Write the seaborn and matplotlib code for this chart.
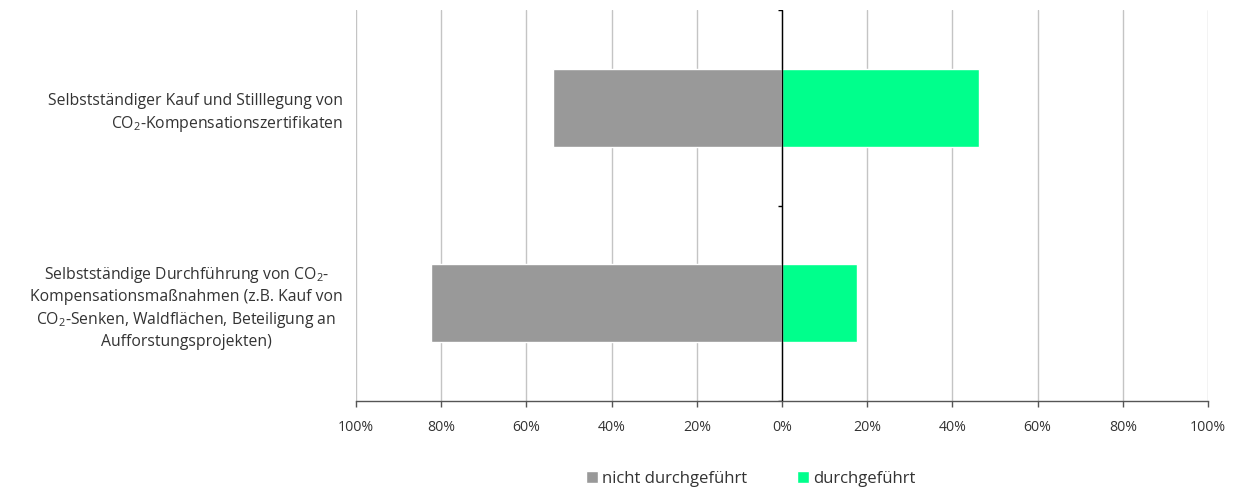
import pandas as pd
import matplotlib.pyplot as plt
import seaborn as sns
from matplotlib.ticker import FuncFormatter

# =====================================
# Data
# =====================================

categories = [
    "Selbstständiger Kauf und Stilllegung von\nCO$_{\\mathregular{2}}$-Kompensationszertifikaten",
    "Selbstständige Durchführung von CO$_{\\mathregular{2}}$-\n"
    "Kompensationsmaßnahmen (z.B. Kauf von\n"
    "CO$_{\\mathregular{2}}$-Senken, Waldflächen, Beteiligung an\n"
    "Aufforstungsprojekten)",
]
nicht_durchgefuehrt = [53.8, 82.3]
durchgefuehrt = [46.2, 17.7]

status_labels = ["nicht durchgeführt", "durchgeführt"]
colors = ["#999999", "#00FF8C"]
x_ticks = [-100, -80, -60, -40, -20, 0, 20, 40, 60, 80, 100]

df = pd.DataFrame({
    "Kategorie": categories * 2,
    "Status": [status_labels[0]] * 2 + [status_labels[1]] * 2,
    "Wert": [-v for v in nicht_durchgefuehrt] + durchgefuehrt,
})

# =====================================
# Plot
# =====================================

sns.set_style("white")
plt.rcParams["font.family"] = ["Open Sans", "DejaVu Sans"]
plt.rcParams["mathtext.fontset"] = "custom"
plt.rcParams["mathtext.rm"] = "Open Sans"

fig = plt.figure(figsize=(12.35, 4.91), dpi=100)
ax = fig.add_axes([356 / 1235, 1 - 401 / 491, (1208 - 356) / 1235, (401 - 10) / 491])

sns.barplot(
    data=df,
    x="Wert",
    y="Kategorie",
    hue="Status",
    hue_order=status_labels,
    palette=colors,
    dodge=False,
    orient="h",
    width=0.4,
    saturation=1,
    ax=ax,
    legend=True,
)

ax.set_xlim(-100, 100)
ax.set_ylim(1.5, -0.5)
ax.set_xticks(x_ticks)
ax.xaxis.set_major_formatter(FuncFormatter(lambda v, p: f"{abs(int(round(v)))}%"))
ax.set_axisbelow(True)
ax.grid(axis="x", color="#c4c4c4", linewidth=1)
ax.grid(axis="y", visible=False)

for side in ["top", "right", "left"]:
    ax.spines[side].set_visible(False)
ax.spines["bottom"].set_color("#555555")
ax.spines["bottom"].set_linewidth(1)

ax.axvline(0, color="black", linewidth=1, zorder=3)
ax.hlines([-0.5, 0.5, 1.5], -1.0, 0, color="black", linewidth=1, zorder=3)

ax.tick_params(axis="x", direction="out", length=4, width=1, color="#555555",
               pad=9.5, labelsize=10.2, labelcolor="#333333", bottom=True)
ax.tick_params(axis="y", length=0, pad=9.4, labelsize=11.3, labelcolor="#333333")

ylabels = ax.get_yticklabels()
for lbl, align in zip(ylabels, ["right", "center"]):
    lbl.set_multialignment(align)
    lbl.set_linespacing(1.35)

ax.set_xlabel("")
ax.set_ylabel("")

handles, labels = ax.get_legend_handles_labels()
ax.get_legend().remove()
fig.legend(
    handles,
    labels,
    loc="center",
    bbox_to_anchor=(751 / 1235, 1 - 479 / 491),
    ncol=2,
    frameon=False,
    fontsize=12,
    handlelength=0.72,
    handleheight=0.72,
    handletextpad=0.25,
    columnspacing=3.0,
    borderpad=0,
    labelcolor="#333333",
)

plt.savefig("out.png", dpi=100)
plt.close()
